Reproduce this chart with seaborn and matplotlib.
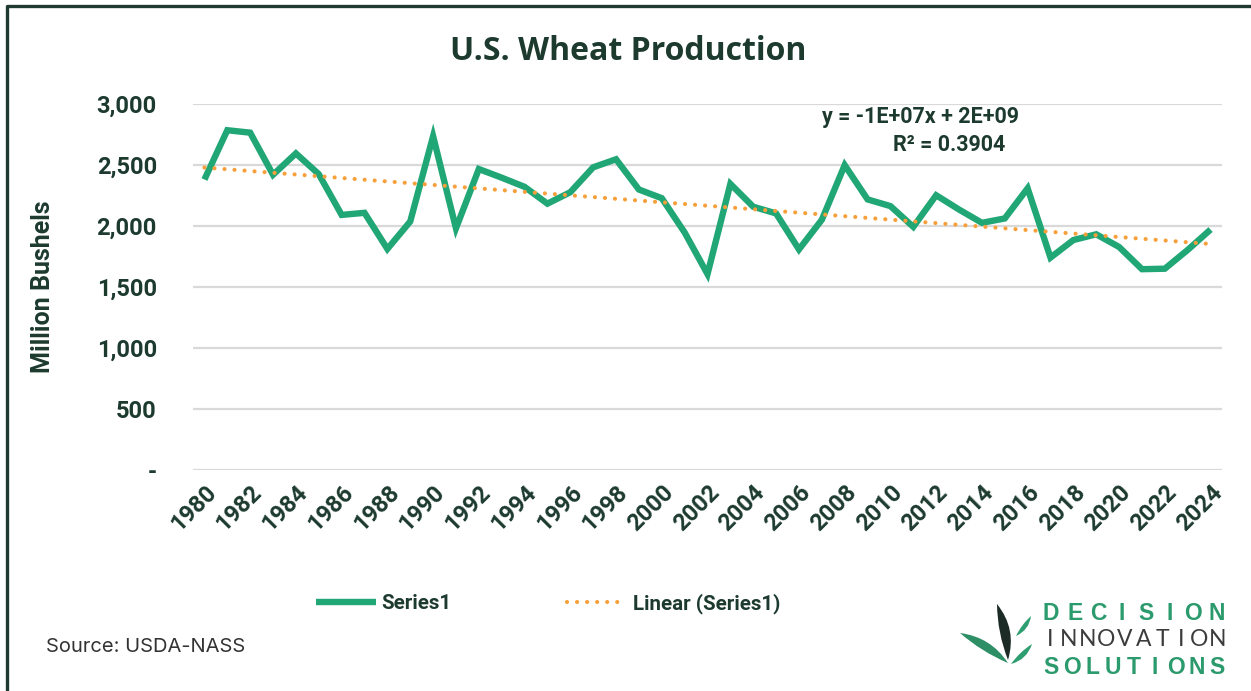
import numpy as np
import pandas as pd
import matplotlib.pyplot as plt
import seaborn as sns
from matplotlib.path import Path
from matplotlib.patches import PathPatch
from matplotlib.ticker import FuncFormatter

# U.S. wheat production, million bushels
years = list(range(1980, 2025))
production = [2381, 2785, 2765, 2420, 2595, 2425, 2091, 2108, 1812, 2037,
              2736, 1981, 2467, 2396, 2321, 2183, 2277, 2481, 2547, 2299,
              2228, 1947, 1606, 2345, 2158, 2103, 1808, 2051, 2499, 2218,
              2163, 1993, 2252, 2135, 2026, 2062, 2309, 1741, 1885, 1932,
              1828, 1646, 1650, 1804, 1971]
tick_years = years[::2]
y_ticks = [0, 500, 1000, 1500, 2000, 2500, 3000]
equation = "y = -1E+07x + 2E+09"
r_squared = "R\u00b2 = 0.3904"

df = pd.DataFrame({"year": years, "production": production})

GREEN = "#21a676"
ORANGE = "#f7a03b"
DARK = "#1d3a2f"
W, H = 1251, 691

sns.set_theme(style="white")
plt.rcParams["font.family"] = ["Roboto", "DejaVu Sans"]

fig = plt.figure(figsize=(W / 100, H / 100), dpi=100)
ax = fig.add_axes([193 / W, 1 - 470 / H, (1222 - 193) / W, (470 - 104) / H])

sns.lineplot(data=df, x="year", y="production", ax=ax, color=GREEN,
             linewidth=4.6, solid_joinstyle="miter", solid_capstyle="butt",
             label="Series1", zorder=3)
sns.regplot(data=df, x="year", y="production", ax=ax, scatter=False, ci=None,
            truncate=True, label="Linear (Series1)",
            line_kws=dict(color=ORANGE, linewidth=3.0, linestyle=(0, (0.01, 2.4)),
                          dash_capstyle="round", zorder=4))

ax.set_xlim(years[0] - 0.5, years[-1] + 0.5)
ax.set_ylim(0, 3000)
ax.set_yticks(y_ticks)
ax.yaxis.set_major_formatter(FuncFormatter(lambda v, p: "-" if v == 0 else f"{v:,.0f}"))
ax.set_xticks(tick_years)
ax.set_xticklabels([str(y) for y in tick_years], rotation=45, ha="right",
                   rotation_mode="anchor")
ax.grid(axis="y", color="#d9d9d9", linewidth=1.6)
ax.grid(axis="x", visible=False)
for s in ax.spines.values():
    s.set_visible(False)
ax.tick_params(axis="both", length=0, labelsize=17, labelcolor=DARK)
ax.tick_params(axis="y", pad=26)
ax.tick_params(axis="x", pad=8)
for lab in ax.get_xticklabels() + ax.get_yticklabels():
    lab.set_fontweight("bold")
ax.set_xlabel("")
ax.set_ylabel("Million Bushels", fontsize=18, fontweight="bold", color=DARK, labelpad=30)

fig.text(921 / W, 1 - 117 / H, equation, fontsize=15.5, fontweight="bold",
         color=DARK, ha="center", va="center")
fig.text(949 / W, 1 - 145 / H, r_squared, fontsize=15.5, fontweight="bold",
         color=DARK, ha="center", va="center")

leg = ax.legend(loc="center", bbox_to_anchor=((548 - 193) / (1222 - 193), -0.365),
                ncol=2, frameon=False, fontsize=14.8, handlelength=2.9,
                columnspacing=5.6, handletextpad=0.3)
for t in leg.get_texts():
    t.set_fontweight("bold")
    t.set_color(DARK)

fig.text(628 / W, 1 - 51 / H, "U.S. Wheat Production", fontsize=23, fontweight="bold",
         color=DARK, ha="center", va="center", family=["Open Sans", "DejaVu Sans"])
fig.text(46 / W, 1 - 647 / H, "Source: USDA-NASS", fontsize=14.5, color="#333333",
         ha="left", va="center", family=["Inter", "DejaVu Sans"])

# overlay in pixel coordinates for frame and logo
ov = fig.add_axes([0, 0, 1, 1], zorder=-1)
ov.set_xlim(0, W)
ov.set_ylim(H, 0)
ov.axis("off")
ov.plot([7, 7, W], [H, 6, 6], color="#1f3a30", linewidth=2.4, solid_capstyle="butt")


def leaf(p0, p1, bulge, color):
    p0 = np.array(p0, float)
    p1 = np.array(p1, float)
    d = p1 - p0
    n = np.array([-d[1], d[0]]) / np.hypot(*d)
    c1 = p0 + d * 0.5 + n * bulge
    c2 = p0 + d * 0.5 - n * bulge * 0.35
    verts = [p0, c1, p1, c2, p0]
    codes = [Path.MOVETO, Path.CURVE3, Path.CURVE3, Path.CURVE3, Path.CURVE3]
    ov.add_patch(PathPatch(Path(verts, codes), facecolor=color, edgecolor="none"))


leaf((1008, 660), (997, 604), 15, "#1c2b25")
leaf((960, 633), (1008, 663), -13, "#2e8f66")
leaf((1016, 636), (1031, 616), 7, "#2e9e70")
leaf((1011, 664), (1032, 644), 8, "#2e9e70")


def spaced(word, y, x0, x1, **kw):
    xs = np.linspace(x0, x1, len(word))
    for ch, x in zip(word, xs):
        ov.text(x, y, ch, ha="center", va="center", **kw)


spaced("DECISION", 613, 1051, 1217, fontsize=16.5, fontweight="bold", color="#2b9a6c",
       family=["Liberation Sans", "DejaVu Sans"])
spaced("INNOVATION", 640, 1050, 1218, fontsize=16.5, color="#3c3c3c",
       family=["Lato", "DejaVu Sans"], fontweight="normal")
spaced("SOLUTIONS", 667, 1051, 1217, fontsize=16.5, fontweight="bold", color="#2b9a6c",
       family=["Liberation Sans", "DejaVu Sans"])

fig.savefig("out.png", dpi=100)
